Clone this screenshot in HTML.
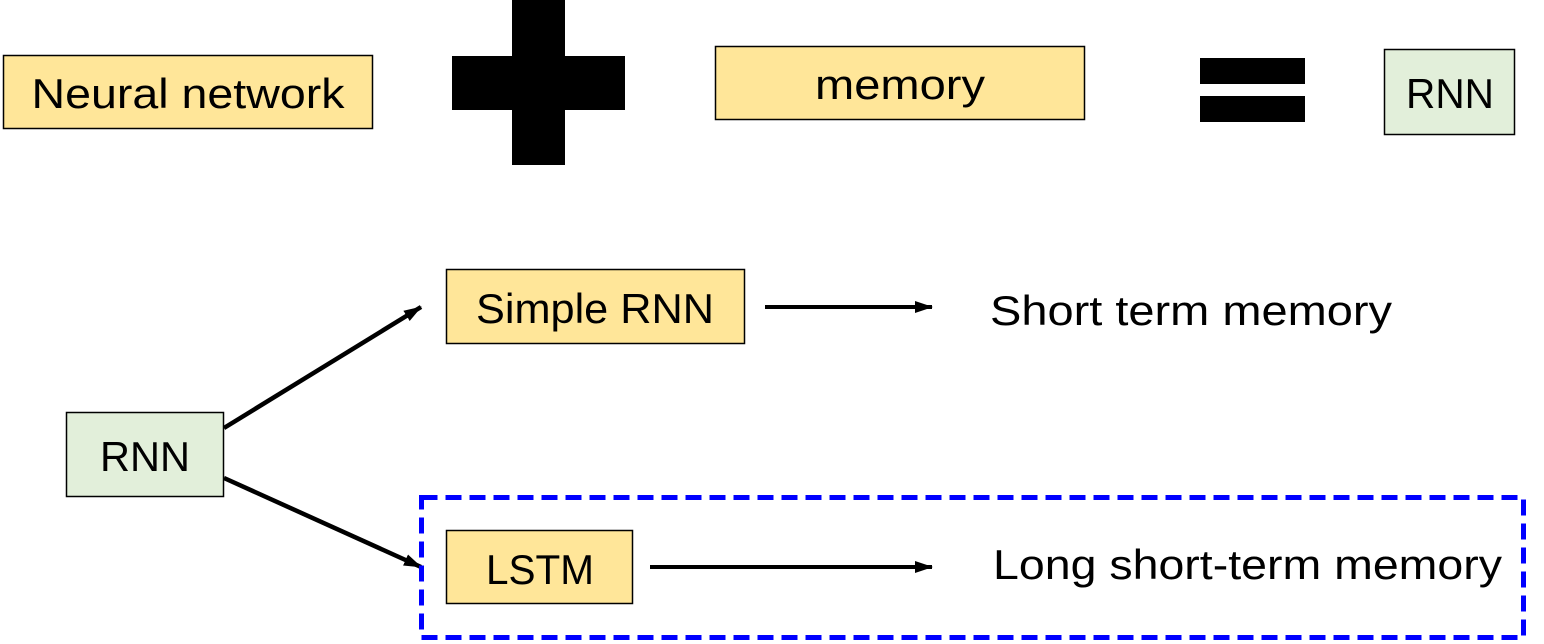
<!DOCTYPE html>
<html><head><meta charset="utf-8"><style>
html,body{margin:0;padding:0;background:#fff;}
svg{display:block;}
text{font-family:"Liberation Sans",sans-serif;font-size:42px;fill:#000;}
</style></head><body>
<svg width="1544" height="644" viewBox="0 0 1544 644" xmlns="http://www.w3.org/2000/svg">
<defs>
<marker id="ah2" markerWidth="18" markerHeight="12" refX="17" refY="6" orient="auto" markerUnits="userSpaceOnUse">
<path d="M0,0 L18,6 L0,12 Z" fill="#000"/>
</marker>
</defs>
<rect x="3.5" y="55.5" width="369" height="73" fill="#FFE699" stroke="#000" stroke-width="1.5"/>
<text x="188" y="108" text-anchor="middle" textLength="313" lengthAdjust="spacingAndGlyphs">Neural network</text>
<rect x="512" y="0" width="53" height="165" fill="#000"/>
<rect x="452" y="56" width="173" height="54" fill="#000"/>
<rect x="715.5" y="46.5" width="369" height="73" fill="#FFE699" stroke="#000" stroke-width="1.5"/>
<text x="900" y="99" text-anchor="middle" textLength="170" lengthAdjust="spacingAndGlyphs">memory</text>
<rect x="1200" y="58" width="105" height="26" fill="#000"/>
<rect x="1200" y="96" width="105" height="26" fill="#000"/>
<rect x="1384.5" y="49.5" width="130" height="85" fill="#E2EFDA" stroke="#000" stroke-width="1.5"/>
<text x="1450" y="108" text-anchor="middle" textLength="88" lengthAdjust="spacingAndGlyphs">RNN</text>
<rect x="446.5" y="269.5" width="298" height="74" fill="#FFE699" stroke="#000" stroke-width="1.5"/>
<text x="595" y="323" text-anchor="middle" textLength="238" lengthAdjust="spacingAndGlyphs">Simple RNN</text>
<line x1="765" y1="307" x2="932" y2="307" stroke="#000" stroke-width="4" marker-end="url(#ah2)"/>
<text x="990" y="325" textLength="402" lengthAdjust="spacingAndGlyphs">Short term memory</text>
<rect x="66.5" y="412.5" width="157" height="84" fill="#E2EFDA" stroke="#000" stroke-width="1.5"/>
<text x="145" y="471" text-anchor="middle" textLength="90" lengthAdjust="spacingAndGlyphs">RNN</text>
<line x1="224" y1="428" x2="421" y2="307" stroke="#000" stroke-width="4.5" marker-end="url(#ah2)"/>
<line x1="224" y1="478" x2="421" y2="567" stroke="#000" stroke-width="4.5" marker-end="url(#ah2)"/>
<rect x="421.5" y="497.5" width="1102" height="140" fill="none" stroke="#0000FF" stroke-width="5" stroke-dasharray="16 8"/>
<rect x="446.5" y="530.5" width="186" height="73" fill="#FFE699" stroke="#000" stroke-width="1.5"/>
<text x="540" y="584" text-anchor="middle" textLength="108" lengthAdjust="spacingAndGlyphs">LSTM</text>
<line x1="650" y1="567" x2="932" y2="567" stroke="#000" stroke-width="4" marker-end="url(#ah2)"/>
<text x="993" y="579" textLength="509" lengthAdjust="spacingAndGlyphs">Long short-term memory</text>
</svg>
</body></html>
